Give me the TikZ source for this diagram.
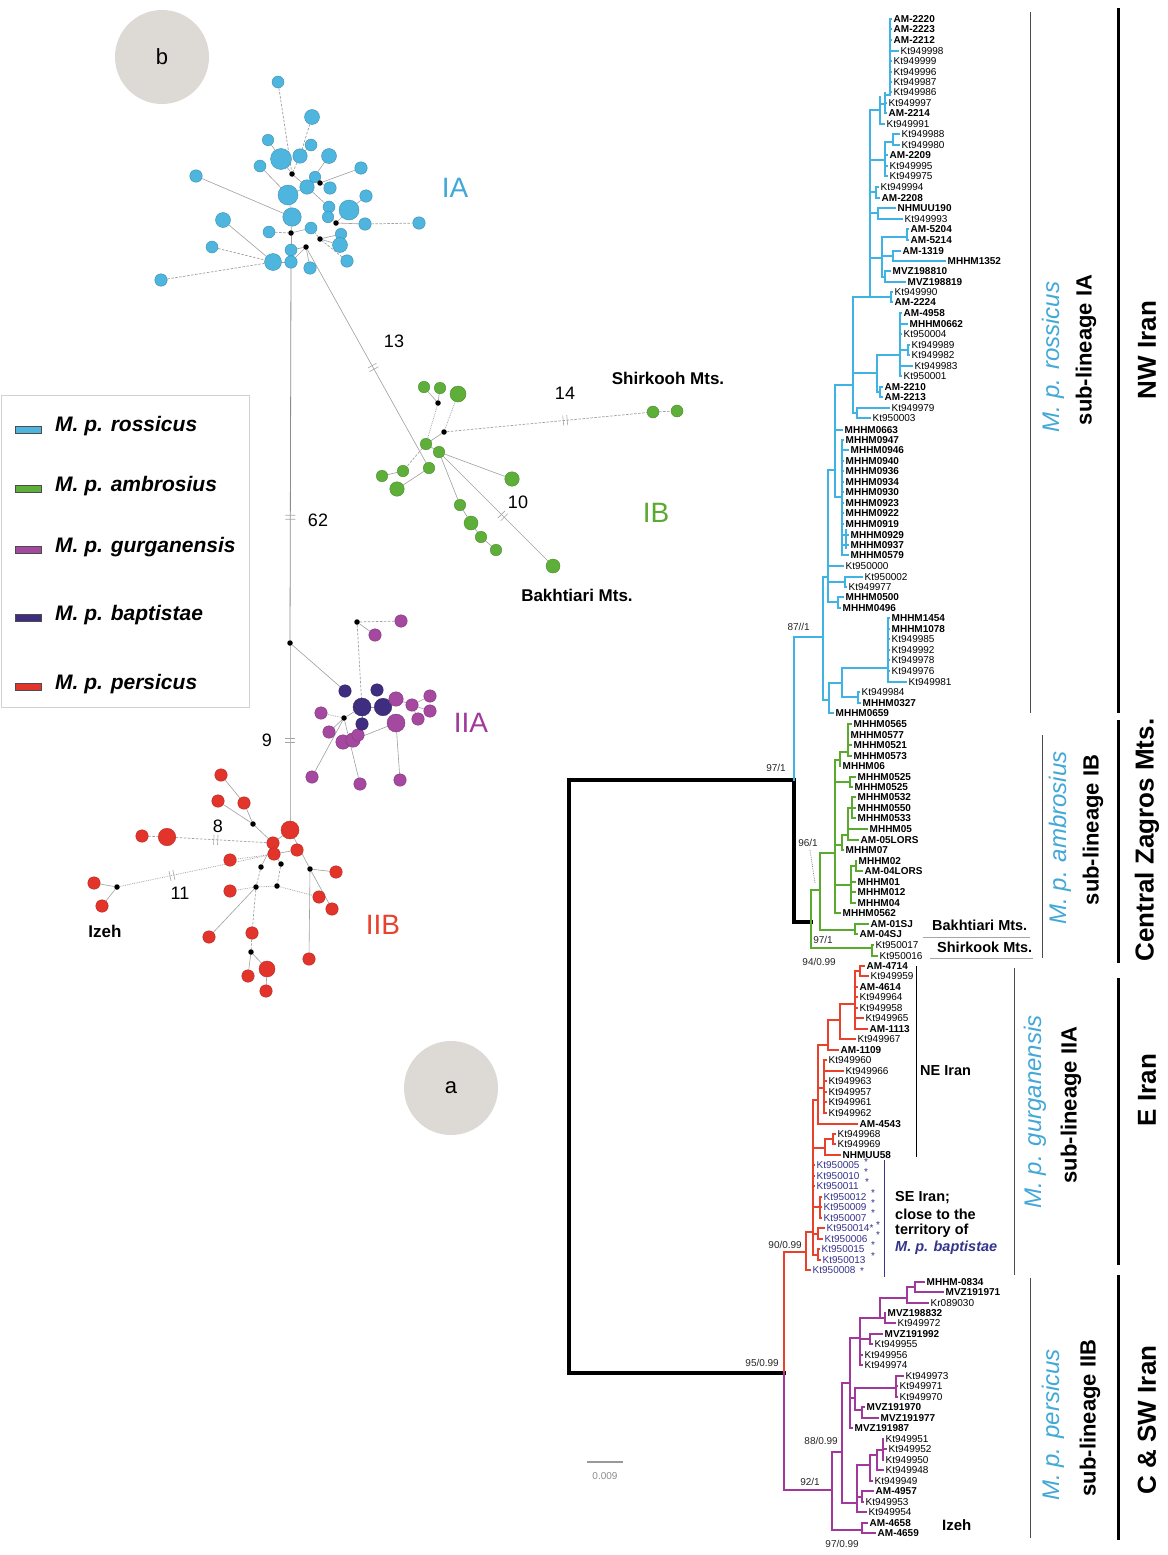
\documentclass[tikz,border=0pt]{standalone}
\usepackage{fontspec}
\setmainfont{Liberation Sans}
\usetikzlibrary{calc}
\newcounter{lc}
\definecolor{cy}{HTML}{3FB4E4}
\definecolor{gr}{HTML}{5BAA30}
\definecolor{rd}{HTML}{E8412C}
\definecolor{pu}{HTML}{A0399B}
\definecolor{sebl}{HTML}{35338A}
\definecolor{cyt}{HTML}{41A8D8}
\definecolor{ncy}{HTML}{4DB5DE}
\definecolor{ngr}{HTML}{5EAF3A}
\definecolor{npu}{HTML}{A5489F}
\definecolor{nnv}{HTML}{3F2D80}
\definecolor{nrd}{HTML}{E3342B}
\definecolor{disk}{HTML}{DDD9D4}
\newcommand\fs[1]{\fontsize{#1}{#1}\selectfont}
\newcommand\B[1]{{\bfseries #1}}
\newcommand\SE[1]{{\color{sebl}#1}}
\newcommand\hb[4]{\draw[#1] (#3,#2) -- (#4,#2);}
\newcommand\vb[4]{\draw[#1] (#2,#3) -- (#2,#4);}
\newcommand\lf[5]{\draw[#1] (#3,#2) -- (#4,#2);\stepcounter{lc}\node[leaflbl] (leaf\the\value{lc}) at (#4+2.5,#2) {#5};}
\newcommand\nn[5]{\node[#1, minimum size=#5pt] (#2) at (#3,#4) {};}
\newcommand\hatch[3]{%
  \coordinate (hc) at ($(#1)!#3!(#2)$);
  \coordinate (hd) at ($(hc)!2pt!(#2)$);
  \coordinate (he) at ($(hc)!-2pt!(#2)$);
  \draw[hatchst] ($(hd)!5pt!90:(#2)$) -- ($(hd)!5pt!-90:(#2)$);
  \draw[hatchst] ($(he)!5pt!90:(#2)$) -- ($(he)!5pt!-90:(#2)$);}
\pgfdeclarelayer{bg}
\pgfsetlayers{bg,main}
\tikzset{
  cB/.style={draw=cy, line width=2.8pt, line cap=rect},
  gB/.style={draw=gr, line width=2.8pt, line cap=rect},
  rB/.style={draw=rd, line width=2.8pt, line cap=rect},
  pB/.style={draw=pu, line width=2.8pt, line cap=rect},
  kB/.style={draw=black, line width=3.5pt, line cap=rect},
  leaflbl/.style={anchor=west, inner sep=0pt, font=\fs{10}},
  supl/.style={anchor=east, inner sep=0pt, font=\fs{10}, text=black!85},
  nbase/.style={circle, inner sep=0pt, line width=0.4pt},
  ncS/.style={nbase, fill=ncy, draw=ncy!80!black},
  ngS/.style={nbase, fill=ngr, draw=ngr!80!black},
  npS/.style={nbase, fill=npu, draw=npu!80!black},
  nnS/.style={nbase, fill=nnv, draw=nnv!80!black},
  nrS/.style={nbase, fill=nrd, draw=nrd!80!black},
  blk/.style={circle, fill=black, inner sep=0pt, minimum size=5.5pt},
  ed/.style={draw=gray!75, line width=0.6pt},
  edd/.style={draw=gray!75, line width=0.7pt, dash pattern=on 2.5pt off 1.5pt},
  edt/.style={draw=gray!75, line width=0.7pt, dash pattern=on 0.8pt off 1pt},
  hatchst/.style={draw=gray!70, line width=0.6pt},
  numl/.style={inner sep=0pt, font=\fs{18}},
  grpl/.style={inner sep=0pt, font=\fs{28}},
  rotsp/.style={rotate=90, inner sep=0pt, font=\fs{24}\itshape, text=cyt},
  rotsl/.style={rotate=90, inner sep=0pt, font=\fs{22}\bfseries},
  rotrg/.style={rotate=90, inner sep=0pt, font=\fs{26}\bfseries},
  legt/.style={anchor=west, inner sep=0pt, font=\fs{21}\bfseries\itshape},
  sw/.style={rectangle, minimum width=26pt, minimum height=7pt, inner sep=0pt, draw=black!70, line width=0.5pt},
  astl/.style={inner sep=0pt, font=\fs{10}, text=sebl},
}
\begin{document}
\begin{tikzpicture}[x=1pt,y=-1pt]
\begin{pgfonlayer}{bg}
\fill[white] (0,0) rectangle (1167,1555);
\end{pgfonlayer}
\useasboundingbox (0,0) rectangle (1167,1555);

%================ TREE: backbone ================
\vb{kB}{569}{780}{1373}
\hb{kB}{780}{569}{794}
\hb{kB}{1373}{569}{784}
\vb{kB}{794}{780}{922}
\hb{kB}{922}{794}{811}

%================ BLUE IA ================
\vb{cB}{794}{637}{780}
\hb{cB}{637}{794}{823}
\vb{cB}{823}{577}{700}
\hb{cB}{700}{823}{829}
\vb{cB}{829}{683}{713}
\lf{cB}{713}{829}{833}{\B{MHHM0659}}
\hb{cB}{683}{829}{842}
\vb{cB}{842}{668}{697}
\hb{cB}{668}{842}{888}
\vb{cB}{888}{618}{682}
\lf{cB}{618}{888}{889}{\B{MHHM1454}}
\lf{cB}{629}{888}{889}{\B{MHHM1078}}
\lf{cB}{639}{888}{889}{Kt949985}
\lf{cB}{650}{888}{889}{Kt949992}
\lf{cB}{660}{888}{889}{Kt949978}
\lf{cB}{671}{888}{889}{Kt949976}
\lf{cB}{682}{888}{906}{Kt949981}
\hb{cB}{697}{842}{858}
\vb{cB}{858}{692}{703}
\lf{cB}{692}{858}{859}{Kt949984}
\lf{cB}{703}{858}{860}{\B{MHHM0327}}
\hb{cB}{577}{823}{828}
\vb{cB}{828}{470}{602}
\lf{cB}{566}{828}{843}{Kt950000}
\hb{cB}{582}{828}{845}
\vb{cB}{845}{577}{587}
\lf{cB}{577}{845}{862}{Kt950002}
\lf{cB}{587}{845}{846}{Kt949977}
\hb{cB}{602}{828}{838}
\vb{cB}{838}{597}{608}
\lf{cB}{597}{838}{843}{\B{MHHM0500}}
\lf{cB}{608}{838}{840}{\B{MHHM0496}}
\hb{cB}{470}{828}{835}
\vb{cB}{835}{385}{497}
\lf{cB}{430}{835}{842}{\B{MHHM0663}}
\hb{cB}{497}{835}{842}
\vb{cB}{842}{440}{555}
\vb{cB}{846}{530}{548}
\lf{cB}{440}{842}{843}{\B{MHHM0947}}
\lf{cB}{450}{842}{848}{\B{MHHM0946}}
\lf{cB}{461}{842}{843}{\B{MHHM0940}}
\lf{cB}{471}{842}{843}{\B{MHHM0936}}
\lf{cB}{482}{842}{843}{\B{MHHM0934}}
\lf{cB}{492}{842}{843}{\B{MHHM0930}}
\lf{cB}{503}{842}{843}{\B{MHHM0923}}
\lf{cB}{513}{842}{843}{\B{MHHM0922}}
\lf{cB}{524}{842}{843}{\B{MHHM0919}}
\lf{cB}{535}{842}{848}{\B{MHHM0929}}
\lf{cB}{545}{842}{848}{\B{MHHM0937}}
\lf{cB}{555}{842}{848}{\B{MHHM0579}}
\hb{cB}{385}{835}{853}
\vb{cB}{853}{297}{413}
\hb{cB}{413}{853}{857}
\vb{cB}{857}{408}{418}
\lf{cB}{408}{857}{889}{Kt949979}
\lf{cB}{418}{857}{870}{Kt950003}
\hb{cB}{373}{853}{877}
\vb{cB}{877}{355}{392}
\hb{cB}{392}{877}{880}
\vb{cB}{880}{387}{397}
\lf{cB}{387}{880}{882}{\B{AM-2210}}
\lf{cB}{397}{880}{882}{\B{AM-2213}}
\hb{cB}{355}{877}{900}
\vb{cB}{900}{313}{376}
\lf{cB}{313}{900}{901}{\B{AM-4958}}
\lf{cB}{324}{900}{907}{\B{MHHM0662}}
\lf{cB}{334}{900}{901}{Kt950004}
\hb{cB}{350}{900}{908}
\vb{cB}{908}{345}{355}
\lf{cB}{345}{908}{909}{Kt949989}
\lf{cB}{355}{908}{909}{Kt949982}
\lf{cB}{366}{900}{912}{Kt949983}
\lf{cB}{376}{900}{901}{Kt950001}
\hb{cB}{297}{853}{891}
\vb{cB}{891}{292}{302}
\lf{cB}{292}{891}{892}{Kt949990}
\lf{cB}{302}{891}{892}{\B{AM-2224}}
\vb{cB}{870}{110}{297}
\hb{cB}{258}{870}{882}
\vb{cB}{882}{237}{277}
\hb{cB}{237}{882}{907}
\vb{cB}{907}{229}{240}
\lf{cB}{229}{907}{908}{\B{AM-5204}}
\lf{cB}{240}{907}{908}{\B{AM-5214}}
\hb{cB}{256}{882}{893}
\vb{cB}{893}{251}{261}
\lf{cB}{251}{893}{900}{\B{AM-1319}}
\lf{cB}{261}{893}{945}{\B{MHHM1352}}
\hb{cB}{277}{882}{885}
\vb{cB}{885}{271}{282}
\lf{cB}{271}{885}{890}{\B{MVZ198810}}
\lf{cB}{282}{885}{905}{\B{MVZ198819}}
\hb{cB}{213}{870}{878}
\vb{cB}{878}{208}{219}
\lf{cB}{208}{878}{895}{\B{NHMUU190}}
\lf{cB}{219}{878}{902}{Kt949993}
\hb{cB}{192}{870}{876}
\vb{cB}{876}{187}{198}
\lf{cB}{187}{876}{878}{Kt949994}
\lf{cB}{198}{876}{879}{\B{AM-2208}}
\hb{cB}{160}{870}{885}
\vb{cB}{885}{142}{176}
\hb{cB}{142}{885}{893}
\vb{cB}{893}{134}{145}
\lf{cB}{134}{893}{899}{Kt949988}
\lf{cB}{145}{893}{899}{Kt949980}
\lf{cB}{155}{885}{887}{\B{AM-2209}}
\lf{cB}{166}{885}{887}{Kt949995}
\lf{cB}{176}{885}{887}{Kt949975}
\hb{cB}{110}{870}{880}
\vb{cB}{880}{97}{124}
\lf{cB}{124}{880}{884}{Kt949991}
\hb{cB}{104}{880}{885}
\vb{cB}{885}{93}{113}
\lf{cB}{103}{885}{886}{Kt949997}
\lf{cB}{113}{885}{886}{\B{AM-2214}}
\hb{cB}{95}{885}{890}
\vb{cB}{890}{19}{93}
\lf{cB}{19}{890}{891}{\B{AM-2220}}
\lf{cB}{29}{890}{891}{\B{AM-2223}}
\lf{cB}{40}{890}{891}{\B{AM-2212}}
\lf{cB}{51}{890}{898}{Kt949998}
\lf{cB}{61}{890}{891}{Kt949999}
\lf{cB}{72}{890}{891}{Kt949996}
\lf{cB}{82}{890}{891}{Kt949987}
\lf{cB}{92}{890}{891}{Kt949986}

%================ GREEN IB ================
\vb{gB}{811}{890}{948}
\hb{gB}{948}{811}{872}
\vb{gB}{872}{945}{956}
\lf{gB}{945}{872}{873}{Kt950017}
\lf{gB}{956}{872}{877}{Kt950016}
\hb{gB}{890}{811}{820}
\vb{gB}{820}{853}{930}
\hb{gB}{930}{820}{855}
\vb{gB}{855}{924}{934}
\lf{gB}{924}{855}{868}{\B{AM-01SJ}}
\lf{gB}{934}{855}{857}{\B{AM-04SJ}}
\hb{gB}{853}{820}{835}
\vb{gB}{835}{760}{913}
\hb{gB}{760}{835}{840}
\vb{gB}{840}{752}{766}
\lf{gB}{766}{840}{840}{\B{MHHM06}}
\hb{gB}{752}{840}{848}
\vb{gB}{848}{724}{756}
\lf{gB}{724}{848}{851}{\B{MHHM0565}}
\lf{gB}{735}{848}{848}{\B{MHHM0577}}
\lf{gB}{745}{848}{851}{\B{MHHM0521}}
\lf{gB}{756}{848}{851}{\B{MHHM0573}}
\hb{gB}{782}{835}{850}
\vb{gB}{850}{777}{787}
\lf{gB}{777}{850}{855}{\B{MHHM0525}}
\lf{gB}{787}{850}{852}{\B{MHHM0525}}
\hb{gB}{845}{835}{842}
\vb{gB}{842}{835}{850}
\lf{gB}{850}{842}{843}{\B{MHHM07}}
\hb{gB}{835}{842}{848}
\vb{gB}{848}{808}{840}
\hb{gB}{808}{848}{852}
\vb{gB}{852}{797}{818}
\lf{gB}{797}{852}{855}{\B{MHHM0532}}
\lf{gB}{808}{852}{855}{\B{MHHM0550}}
\lf{gB}{818}{852}{855}{\B{MHHM0533}}
\lf{gB}{829}{848}{867}{\B{MHHM05}}
\lf{gB}{840}{848}{858}{\B{AM-05LORS}}
\hb{gB}{885}{835}{851}
\vb{gB}{851}{866}{903}
\hb{gB}{866}{851}{856}
\vb{gB}{856}{861}{871}
\lf{gB}{861}{856}{856}{\B{MHHM02}}
\lf{gB}{871}{856}{862}{\B{AM-04LORS}}
\lf{gB}{882}{851}{855}{\B{MHHM01}}
\lf{gB}{892}{851}{855}{\B{MHHM012}}
\lf{gB}{903}{851}{855}{\B{MHHM04}}
\lf{gB}{913}{835}{840}{\B{MHHM0562}}

%================ RED IIA ================
\vb{rB}{784}{1252}{1373}
\hb{rB}{1252}{784}{806}
\vb{rB}{806}{1232}{1270}
\lf{rB}{1270}{806}{810}{\SE{Kt950008}}
\hb{rB}{1232}{806}{813}
\vb{rB}{813}{1100}{1255}
\lf{rB}{1165}{813}{814}{\SE{Kt950005}}
\lf{rB}{1176}{813}{814}{\SE{Kt950010}}
\lf{rB}{1186}{813}{814}{\SE{Kt950011}}
\hb{rB}{1207}{813}{820}
\vb{rB}{820}{1197}{1218}
\lf{rB}{1197}{820}{821}{\SE{Kt950012}}
\lf{rB}{1207}{820}{821}{\SE{Kt950009}}
\lf{rB}{1218}{820}{821}{\SE{Kt950007}}
\hb{rB}{1234}{813}{818}
\vb{rB}{818}{1228}{1239}
\lf{rB}{1228}{818}{824}{\SE{Kt950014*}}
\lf{rB}{1239}{818}{822}{\SE{Kt950006}}
\hb{rB}{1255}{813}{818}
\vb{rB}{818}{1249}{1260}
\lf{rB}{1249}{818}{819}{\SE{Kt950015}}
\lf{rB}{1260}{818}{820}{\SE{Kt950013}}
\hb{rB}{1100}{813}{818}
\vb{rB}{818}{1045}{1124}
\lf{rB}{1124}{818}{857}{\B{AM-4543}}
\hb{rB}{1088}{818}{824}
\vb{rB}{824}{1060}{1113}
\lf{rB}{1060}{824}{826}{Kt949960}
\lf{rB}{1071}{824}{843}{Kt949966}
\lf{rB}{1081}{824}{826}{Kt949963}
\lf{rB}{1092}{824}{826}{Kt949957}
\lf{rB}{1102}{824}{826}{Kt949961}
\lf{rB}{1113}{824}{826}{Kt949962}
\hb{rB}{1045}{818}{828}
\vb{rB}{828}{1020}{1050}
\lf{rB}{1050}{828}{838}{\B{AM-1109}}
\hb{rB}{1020}{828}{840}
\vb{rB}{840}{1004}{1039}
\lf{rB}{1039}{840}{855}{Kt949967}
\hb{rB}{1004}{840}{855}
\vb{rB}{855}{971}{1029}
\hb{rB}{971}{855}{860}
\vb{rB}{860}{966}{976}
\lf{rB}{966}{860}{864}{\B{AM-4714}}
\lf{rB}{976}{860}{868}{Kt949959}
\lf{rB}{987}{855}{857}{\B{AM-4614}}
\lf{rB}{997}{855}{857}{Kt949964}
\lf{rB}{1008}{855}{857}{Kt949958}
\lf{rB}{1018}{855}{863}{Kt949965}
\lf{rB}{1029}{855}{867}{\B{AM-1113}}
\hb{rB}{1148}{813}{825}
\vb{rB}{825}{1139}{1155}
\hb{rB}{1139}{825}{833}
\vb{rB}{833}{1134}{1144}
\lf{rB}{1134}{833}{835}{Kt949968}
\lf{rB}{1144}{833}{835}{Kt949969}
\lf{rB}{1155}{825}{840}{\B{NHMUU58}}
% asterisks
\node[astl] (as1) at (866,1162) {*};
\node[astl] (as2) at (866,1172) {*};
\node[astl] (as3) at (867,1182) {*};
\node[astl] (as4) at (873,1193) {*};
\node[astl] (as5) at (873,1203) {*};
\node[astl] (as6) at (873,1213) {*};
\node[astl] (as7) at (878,1225) {*};
\node[astl] (as8) at (878,1235) {*};
\node[astl] (as9) at (873,1245) {*};
\node[astl] (as10) at (873,1256) {*};
\node[astl] (as11) at (862,1271) {*};

%================ PURPLE IIB ================
\vb{pB}{784}{1373}{1490}
\hb{pB}{1490}{784}{832}
\vb{pB}{832}{1452}{1530}
\hb{pB}{1530}{832}{862}
\vb{pB}{862}{1523}{1533}
\lf{pB}{1523}{862}{867}{\B{AM-4658}}
\lf{pB}{1533}{862}{875}{\B{AM-4659}}
\hb{pB}{1452}{832}{842}
\vb{pB}{842}{1383}{1503}
\hb{pB}{1503}{842}{857}
\vb{pB}{857}{1465}{1512}
\lf{pB}{1512}{857}{866}{Kt949954}
\hb{pB}{1497}{857}{862}
\vb{pB}{862}{1491}{1502}
\lf{pB}{1491}{862}{873}{\B{AM-4957}}
\lf{pB}{1502}{862}{863}{Kt949953}
\hb{pB}{1465}{857}{870}
\vb{pB}{870}{1455}{1481}
\lf{pB}{1481}{870}{872}{Kt949949}
\hb{pB}{1455}{870}{877}
\vb{pB}{877}{1450}{1470}
\lf{pB}{1470}{877}{883}{Kt949948}
\hb{pB}{1450}{877}{883}
\vb{pB}{883}{1439}{1460}
\lf{pB}{1439}{883}{883}{Kt949951}
\lf{pB}{1449}{883}{886}{Kt949952}
\lf{pB}{1460}{883}{883}{Kt949950}
\hb{pB}{1383}{842}{850}
\vb{pB}{850}{1338}{1428}
\lf{pB}{1428}{850}{852}{\B{MVZ191987}}
\hb{pB}{1398}{850}{855}
\vb{pB}{855}{1388}{1410}
\hb{pB}{1388}{855}{896}
\vb{pB}{896}{1376}{1397}
\lf{pB}{1376}{896}{903}{Kt949973}
\lf{pB}{1386}{896}{897}{Kt949971}
\lf{pB}{1397}{896}{897}{Kt949970}
\hb{pB}{1410}{855}{862}
\vb{pB}{862}{1407}{1418}
\lf{pB}{1407}{862}{864}{\B{MVZ191970}}
\lf{pB}{1418}{862}{878}{\B{MVZ191977}}
\hb{pB}{1338}{850}{860}
\vb{pB}{860}{1318}{1365}
\lf{pB}{1355}{860}{862}{Kt949956}
\lf{pB}{1365}{860}{862}{Kt949974}
\hb{pB}{1339}{860}{870}
\vb{pB}{870}{1334}{1344}
\lf{pB}{1334}{870}{882}{\B{MVZ191992}}
\lf{pB}{1344}{870}{872}{Kt949955}
\hb{pB}{1318}{860}{885}
\vb{pB}{880}{1298}{1318}
\vb{pB}{885}{1313}{1323}
\lf{pB}{1313}{885}{885}{\B{MVZ198832}}
\lf{pB}{1323}{885}{895}{Kt949972}
\hb{pB}{1298}{880}{907}
\vb{pB}{907}{1287}{1303}
\hb{pB}{1287}{907}{915}
\vb{pB}{915}{1282}{1292}
\lf{pB}{1282}{915}{924}{\B{MHHM-0834}}
\lf{pB}{1292}{915}{943}{\B{MVZ191971}}
\lf{pB}{1303}{907}{928}{Kr089030}

%================ support values ================
\node[supl] (s87) at (810,627) {87//1};
\node[supl] (s97a) at (786,768) {97/1};
\node[supl] (s96) at (818,843) {96/1};
\draw[gray, line width=0.7pt, dash pattern=on 0.8pt off 1pt] (810,850) -- (815,883);
\node[supl] (s97b) at (833,940) {97/1};
\node[supl] (s94) at (836,962) {94/0.99};
\node[supl] (s90) at (802,1245) {90/0.99};
\node[supl] (s95) at (779,1363) {95/0.99};
\node[supl] (s88) at (838,1441) {88/0.99};
\node[supl] (s92) at (820,1482) {92/1};
\node[supl] (s97c) at (859,1544) {97/0.99};
\draw[gray!80, line width=1.6pt] (587,1462) -- (623,1462);
\node[inner sep=0pt, font=\fs{10}, text=gray!90] (scl) at (605,1476) {0.009};

%================ tree annotations ================
\node[anchor=west, inner sep=0pt, font=\fs{14.5}\bfseries] (tbak) at (932,925) {Bakhtiari Mts.};
\draw[gray!70, line width=0.8pt] (923,937) -- (1030,937);
\node[anchor=west, inner sep=0pt, font=\fs{14.5}\bfseries] (tshi) at (937,947) {Shirkook Mts.};
\draw[gray!70, line width=0.8pt] (930,958) -- (1033,958);
\draw[black, line width=1pt] (916,966) -- (916,1157);
\node[anchor=west, inner sep=0pt, font=\fs{14.5}\bfseries] (tne) at (920,1071) {NE Iran};
\draw[sebl, line width=1pt] (884,1160) -- (884,1277);
\node[anchor=west, inner sep=0pt, font=\fs{14.5}\bfseries] (tse1) at (895,1198) {SE Iran;};
\node[anchor=west, inner sep=0pt, font=\fs{14.5}\bfseries] (tse2) at (895,1214) {close to the};
\node[anchor=west, inner sep=0pt, font=\fs{14.5}\bfseries] (tse3) at (895,1231) {territory of};
\node[anchor=west, inner sep=0pt, font=\fs{14.5}\bfseries\itshape, text=sebl] (tse4) at (895,1248) {M. p. baptistae};
\node[anchor=west, inner sep=0pt, font=\fs{15}\bfseries] (tizt) at (942,1525) {Izeh};

%================ right-side brackets ================
\draw[gray!60!black, line width=0.8pt] (1030,12) -- (1030,713);
\node[rotsp] (rIA1) at (1053,357) {M. p. rossicus};
\node[rotsl] (rIA2) at (1086,350) {sub-lineage IA};
\draw[black, line width=3pt] (1118,8) -- (1118,713);
\node[rotrg] (rIA3) at (1147,350) {NW Iran};
\draw[gray!60!black, line width=0.8pt] (1042,735) -- (1042,958);
\node[rotsp] (rIB1) at (1060,838) {M. p. ambrosius};
\node[rotsl] (rIB2) at (1093,830) {sub-lineage IB};
\draw[black, line width=3pt] (1118,720) -- (1118,963);
\node[rotrg] (rIB3) at (1147,840) {Central Zagros Mts.};
\draw[gray!60!black, line width=0.8pt] (1014,968) -- (1014,1275);
\node[rotsp] (rIIA1) at (1035,1112) {M. p. gurganensis};
\node[rotsl] (rIIA2) at (1071,1105) {sub-lineage IIA};
\draw[black, line width=3pt] (1118,978) -- (1118,1265);
\node[rotrg] (rIIA3) at (1147,1090) {E Iran};
\draw[gray!60!black, line width=0.8pt] (1030,1278) -- (1030,1538);
\node[rotsp] (rIIB1) at (1053,1425) {M. p. persicus};
\node[rotsl] (rIIB2) at (1090,1418) {sub-lineage IIB};
\draw[black, line width=3pt] (1118,1275) -- (1118,1540);
\node[rotrg] (rIIB3) at (1147,1420) {C \& SW Iran};

%================ disks ================
\node[circle, fill=disk, minimum size=94pt, inner sep=0pt, font=\fs{22}] (dskb) at (162,57) {b};
\node[circle, fill=disk, minimum size=94pt, inner sep=0pt, font=\fs{22}] (dska) at (451,1088) {a};

%================ legend ================
\draw[gray!35, line width=0.8pt] (1,395) rectangle (249,707);
\node[sw, fill=ncy] (sw1) at (28,430) {};
\node[sw, fill=ngr] (sw2) at (28,489) {};
\node[sw, fill=npu] (sw3) at (28,550) {};
\node[sw, fill=nnv] (sw4) at (28,618) {};
\node[sw, fill=nrd] (sw5) at (28,687) {};
\node[legt] (lg1) at (55,426) {M. p. rossicus};
\node[legt] (lg2) at (55,486) {M. p. ambrosius};
\node[legt] (lg3) at (55,547) {M. p. gurganensis};
\node[legt] (lg4) at (55,615) {M. p. baptistae};
\node[legt] (lg5) at (55,684) {M. p. persicus};

%================ network: IA ================
\nn{ncS}{a1}{278}{82}{12}
\nn{ncS}{a2}{312}{117}{15}
\nn{ncS}{a3}{268}{140}{11.5}
\nn{ncS}{a4}{311}{145}{12}
\nn{ncS}{a5}{281}{159}{21}
\nn{ncS}{a6}{300}{156}{14.5}
\nn{ncS}{a7}{329}{156}{15}
\nn{ncS}{a8}{260}{166}{12}
\nn{ncS}{a9}{361}{168}{12.5}
\nn{ncS}{a10}{196}{176}{12.5}
\nn{ncS}{a11}{315}{177}{11.5}
\nn{ncS}{a12}{307}{187}{14.5}
\nn{ncS}{a13}{330}{188}{12.5}
\nn{ncS}{a14}{288}{195}{20}
\nn{ncS}{a15}{366}{196}{12.5}
\nn{ncS}{a16}{329}{207}{12}
\nn{ncS}{a17}{349}{210}{20}
\nn{ncS}{a18}{328}{217}{11.5}
\nn{ncS}{a19}{292}{217}{18.5}
\nn{ncS}{a20}{223}{220}{15}
\nn{ncS}{a21}{365}{224}{12.5}
\nn{ncS}{a22}{419}{223}{12.5}
\nn{ncS}{a23}{311}{228}{12}
\nn{ncS}{a24}{269}{232}{12}
\nn{ncS}{a25}{341}{234}{11.5}
\nn{ncS}{a26}{340}{245}{15}
\nn{ncS}{a27}{212}{247}{12}
\nn{ncS}{a28}{291}{250}{12}
\nn{ncS}{a29}{273}{262}{17}
\nn{ncS}{a30}{291}{262}{12.5}
\nn{ncS}{a31}{310}{268}{12.5}
\nn{ncS}{a32}{347}{261}{12.5}
\nn{ncS}{a33}{161}{280}{12.5}
\node[blk] (ab1) at (292,174) {};
\node[blk] (ab2) at (320,183) {};
\node[blk] (ab3) at (336,223) {};
\node[blk] (ab4) at (291,233) {};
\node[blk] (ab5) at (320,239) {};
\node[blk] (ab6) at (306,247) {};

%================ network: IB ================
\nn{ngS}{g1}{424}{387}{11.5}
\nn{ngS}{g2}{440}{388}{11.5}
\nn{ngS}{g3}{458}{394}{16}
\node[blk] (gb1) at (438,403) {};
\node[blk] (gb2) at (444,432) {};
\nn{ngS}{g4}{426}{444}{11.5}
\nn{ngS}{g5}{439}{452}{11.5}
\nn{ngS}{g6}{403}{471}{11.5}
\nn{ngS}{g7}{429}{468}{11.5}
\nn{ngS}{g8}{382}{476}{11.5}
\nn{ngS}{g9}{397}{489}{14.5}
\nn{ngS}{g10}{512}{479}{14.5}
\nn{ngS}{g11}{460}{505}{11.5}
\nn{ngS}{g12}{471}{523}{14}
\nn{ngS}{g13}{481}{537}{11.5}
\nn{ngS}{g14}{496}{550}{11.5}
\nn{ngS}{g15}{553}{566}{14}
\nn{ngS}{g16}{653}{412}{12}
\nn{ngS}{g17}{677}{411}{12}

%================ network: IIA ================
\node[blk] (pb1) at (357,622) {};
\nn{npS}{p1}{401}{621}{12.5}
\nn{npS}{p2}{375}{635}{12.5}
\node[blk] (mb) at (290,643) {};
\nn{nnS}{n1}{345}{691}{12.5}
\nn{nnS}{n2}{377}{690}{12.5}
\nn{nnS}{n3}{362}{707}{18}
\nn{nnS}{n4}{383}{707}{17.5}
\nn{npS}{p3}{396}{699}{14.5}
\nn{npS}{p4}{412}{705}{12.5}
\nn{npS}{p5}{430}{696}{12.5}
\nn{npS}{p6}{430}{711}{12.5}
\nn{npS}{p7}{418}{719}{12.5}
\nn{npS}{p8}{396}{723}{18}
\nn{npS}{p9}{321}{713}{12.5}
\node[blk] (pb2) at (344,718) {};
\nn{npS}{p10}{329}{732}{12.5}
\nn{npS}{p11}{343}{742}{14.5}
\nn{npS}{p12}{353}{740}{14.5}
\nn{npS}{p13}{358}{735}{12.5}
\nn{nnS}{n5}{362}{724}{12.5}
\nn{npS}{p14}{312}{777}{12.5}
\nn{npS}{p15}{360}{784}{12.5}
\nn{npS}{p16}{400}{780}{12.5}

%================ network: IIB ================
\nn{nrS}{r1}{221}{775}{12.5}
\nn{nrS}{r2}{218}{801}{12.5}
\nn{nrS}{r3}{244}{803}{12.5}
\node[blk] (rb1) at (253,824) {};
\nn{nrS}{r4}{142}{836}{12.5}
\nn{nrS}{r5}{167}{837}{17.5}
\nn{nrS}{r6}{290}{830}{18}
\nn{nrS}{r7}{273}{843}{12.5}
\nn{nrS}{r8}{274}{854}{12.5}
\nn{nrS}{r9}{297}{850}{12.5}
\nn{nrS}{r10}{230}{860}{12.5}
\node[blk] (rb2) at (261,867) {};
\node[blk] (rb3) at (281,864) {};
\node[blk] (rb4) at (310,869) {};
\nn{nrS}{r11}{336}{872}{12.5}
\nn{nrS}{r12}{94}{883}{12.5}
\node[blk] (rb5) at (117,887) {};
\nn{nrS}{r13}{230}{891}{12.5}
\node[blk] (rb6) at (256,887) {};
\node[blk] (rb7) at (277,886) {};
\nn{nrS}{r14}{319}{897}{12.5}
\nn{nrS}{r15}{332}{909}{12.5}
\nn{nrS}{r16}{102}{906}{12.5}
\nn{nrS}{r17}{209}{937}{12.5}
\nn{nrS}{r18}{252}{933}{12.5}
\node[blk] (rb8) at (251,952) {};
\nn{nrS}{r19}{309}{959}{12.5}
\nn{nrS}{r20}{248}{976}{12.5}
\nn{nrS}{r21}{267}{969}{16}
\nn{nrS}{r22}{266}{991}{12.5}

%================ network edges ================
\begin{pgfonlayer}{bg}
% IA
\draw[edd] (a1) -- (ab1);
\draw[edd] (a2) -- (a6);
\draw[ed] (a3) -- (a5);
\draw[edd] (a4) -- (a6);
\draw[ed] (a5) -- (ab1);
\draw[edd] (a6) -- (ab1);
\draw[ed] (a7) -- (a12);
\draw[ed] (a8) -- (a14);
\draw[ed] (a9) -- (ab2);
\draw[ed] (a10) -- (a19);
\draw[edd] (a11) -- (ab2);
\draw[ed] (ab1) -- (a12);
\draw[ed] (a12) -- (a14);
\draw[ed] (a13) -- (ab2);
\draw[ed] (a14) -- (a19);
\draw[ed] (a15) -- (a17);
\draw[ed] (a16) -- (a12);
\draw[ed] (a17) -- (ab3);
\draw[ed] (a18) -- (ab3);
\draw[ed] (ab3) -- (a21);
\draw[edd] (a21) -- (a22);
\draw[ed] (a19) -- (ab4);
\draw[ed] (a23) -- (ab4);
\draw[edd] (a24) -- (ab4);
\draw[ed] (ab4) -- (a28);
\draw[ed] (a28) -- (ab6);
\draw[ed] (ab6) -- (a30);
\draw[ed] (ab6) -- (a31);
\draw[ed] (a25) -- (ab5);
\draw[ed] (a26) -- (ab5);
\draw[edd] (ab5) -- (a23);
\draw[edd] (a32) -- (ab5);
\draw[ed] (a20) -- (a29);
\draw[edd] (a27) -- (a29);
\draw[edd] (a33) -- (a29);
\draw[ed] (a29) -- (a30);
% long links
\draw[draw=gray!90, line width=0.8pt] (a30) -- (mb);
\draw[draw=gray!55, line width=0.8pt] (mb) -- (r6);
\draw[ed] (ab6) -- (g7);
% IB
\draw[ed] (g1) -- (gb1);
\draw[ed] (g2) -- (gb1);
\draw[edt] (gb1) -- (g4);
\draw[edt] (g3) -- (gb2);
\draw[ed] (gb2) -- (g4);
\draw[edd] (gb2) -- (g16);
\draw[edd] (g16) -- (g17);
\draw[edd] (g4) -- (g6);
\draw[ed] (g6) -- (g8);
\draw[ed] (g7) -- (g9);
\draw[ed] (g4) -- (g5);
\draw[ed] (g5) -- (g10);
\draw[ed] (g5) -- (g11);
\draw[ed] (g11) -- (g12);
\draw[ed] (g12) -- (g13);
\draw[ed] (g13) -- (g14);
\draw[ed] (g5) -- (g15);
% IIA
\draw[ed] (mb) -- (n1);
\draw[edd] (pb1) -- (p1);
\draw[ed] (pb1) -- (p2);
\draw[edd] (pb1) -- (n3);
\draw[ed] (n3) -- (n4);
\draw[ed] (n4) -- (p3);
\draw[ed] (p3) -- (p4);
\draw[ed] (p4) -- (p5);
\draw[ed] (p4) -- (p6);
\draw[ed] (p4) -- (p7);
\draw[ed] (n3) -- (pb2);
\draw[edt] (pb2) -- (p9);
\draw[ed] (pb2) -- (p10);
\draw[ed] (pb2) -- (p14);
\draw[ed] (pb2) -- (p15);
\draw[ed] (p8) -- (p12);
\draw[ed] (p8) -- (p16);
\draw[ed] (n5) -- (n3);
\draw[ed] (p11) -- (p12);
% IIB
\draw[ed] (r1) -- (r3);
\draw[ed] (r2) -- (rb1);
\draw[ed] (r3) -- (rb1);
\draw[ed] (rb1) -- (r7);
\draw[edd] (r4) -- (r5);
\draw[edd] (r5) -- (r7);
\draw[edt] (r10) -- (r8);
\draw[edt] (rb5) -- (r8);
\draw[ed] (r12) -- (rb5);
\draw[ed] (r16) -- (rb5);
\draw[edd] (rb2) -- (rb6);
\draw[edd] (rb3) -- (rb7);
\draw[edt] (rb6) -- (rb7);
\draw[edt] (r13) -- (rb6);
\draw[ed] (rb6) -- (r17);
\draw[edd] (rb6) -- (r18);
\draw[edd] (r18) -- (rb8);
\draw[ed] (rb8) -- (r20);
\draw[ed] (rb8) -- (r21);
\draw[ed] (r21) -- (r22);
\draw[edt] (rb7) -- (r14);
\draw[ed] (r6) -- (rb4);
\draw[ed] (rb4) -- (r15);
\draw[ed] (rb4) -- (r19);
\draw[ed] (rb4) -- (r11);
\draw[ed] (r7) -- (rb2);
\draw[ed] (r8) -- (rb3);
\draw[ed] (r6) -- (r7);
\draw[ed] (r8) -- (r9);
\end{pgfonlayer}

% hatches
\hatch{a30}{mb}{0.67}
\hatch{mb}{r6}{0.52}
\hatch{ab6}{g7}{0.545}
\hatch{g5}{g15}{0.56}
\hatch{gb2}{g16}{0.58}
\hatch{r5}{r7}{0.46}
\hatch{rb5}{r8}{0.35}

% network labels
\node[grpl, text=cyt] (tIA) at (455,188) {IA};
\node[grpl, text=gr] (tIB) at (656,513) {IB};
\node[grpl, text=pu] (tIIA) at (471,723) {IIA};
\node[grpl, text=rd] (tIIB) at (383,925) {IIB};
\node[numl] (n13) at (394,341) {13};
\node[numl] (n14) at (565,393) {14};
\node[numl] (n10) at (518,502) {10};
\node[numl] (n62) at (318,520) {62};
\node[numl] (n9) at (267,740) {9};
\node[numl] (n8) at (218,826) {8};
\node[numl] (n11) at (180,893) {11};
\node[inner sep=0pt, font=\fs{17}\bfseries] (tshk) at (668,378) {Shirkooh Mts.};
\node[inner sep=0pt, font=\fs{17}\bfseries] (tbkn) at (577,595) {Bakhtiari Mts.};
\node[inner sep=0pt, font=\fs{17}\bfseries] (tizn) at (105,931) {Izeh};
\end{tikzpicture}
\end{document}
